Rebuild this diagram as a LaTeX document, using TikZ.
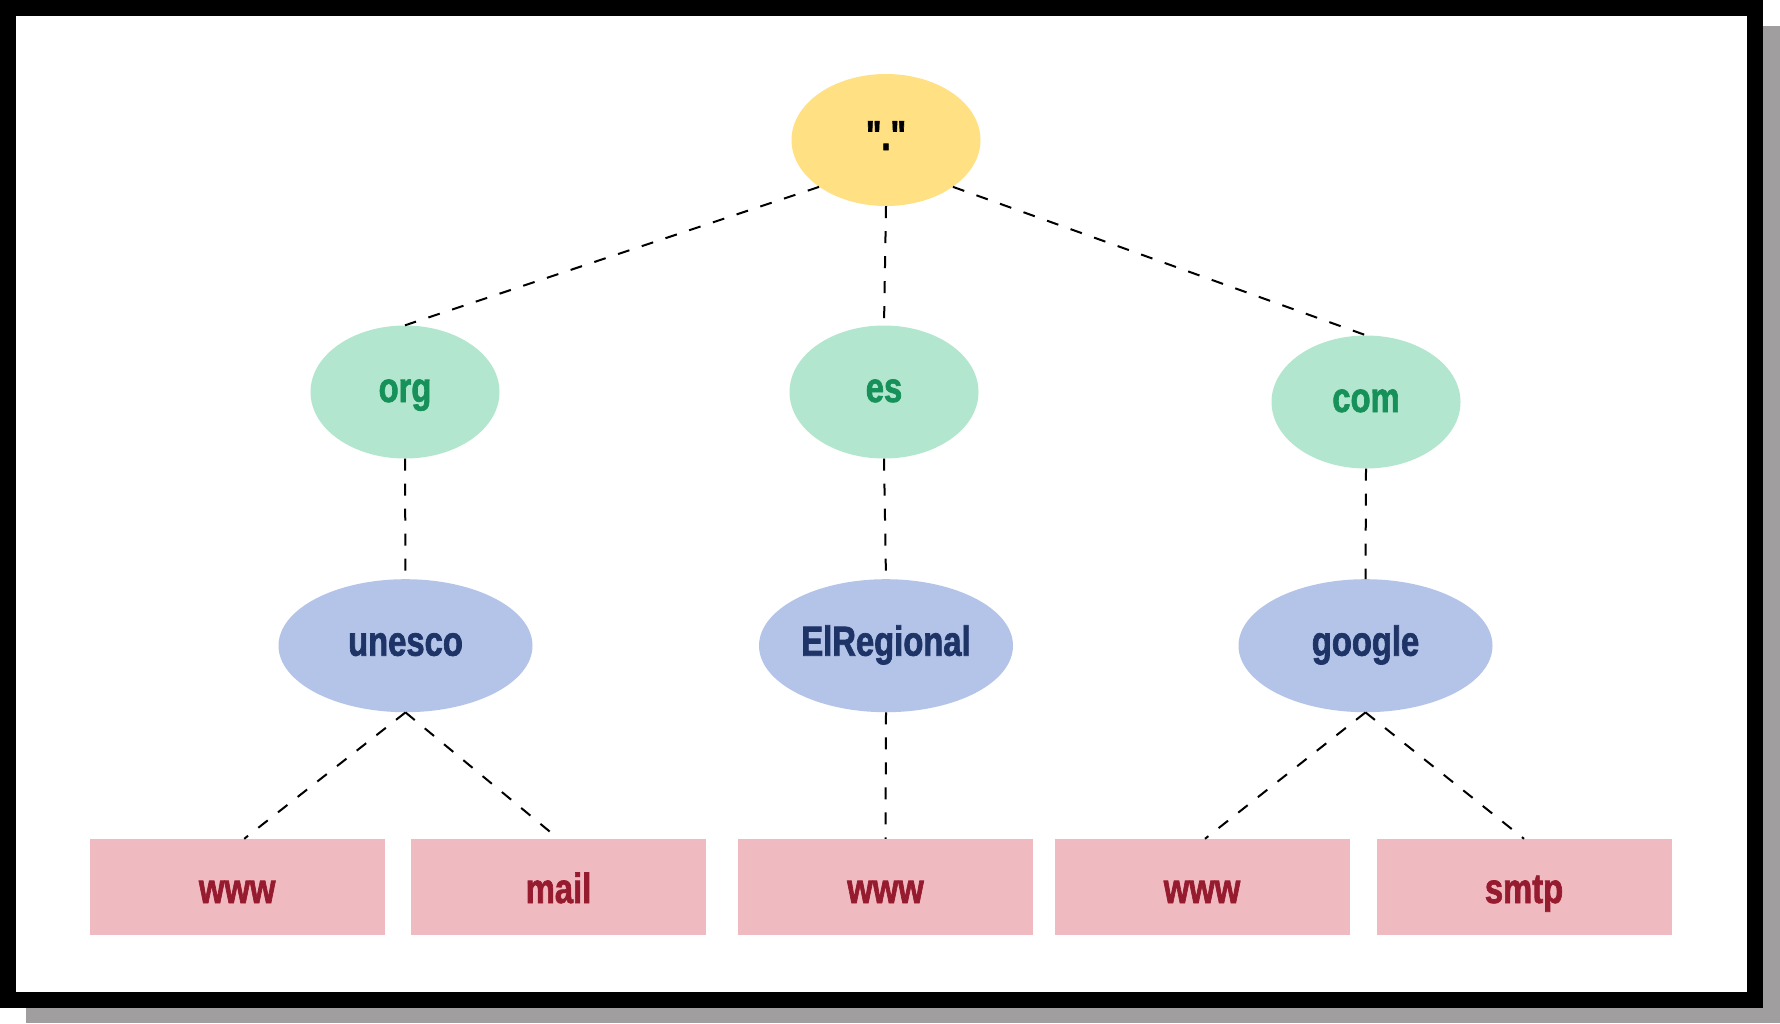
\documentclass[tikz,border=0pt]{standalone}
\usepackage{fontspec}
\setmainfont{Liberation Sans}
\newfontfamily\labelfont[FakeStretch=0.78,BoldFeatures={FakeBold=1.6}]{Liberation Sans}
\usetikzlibrary{shapes.geometric}
\definecolor{shadowgray}{HTML}{A09E9E}
\definecolor{rootfill}{HTML}{FFE082}
\definecolor{tldfill}{HTML}{B3E6CE}
\definecolor{domfill}{HTML}{B4C4E8}
\definecolor{hostfill}{HTML}{F0BAC1}
\definecolor{tldtext}{HTML}{17915A}
\definecolor{domtext}{HTML}{1E3366}
\definecolor{hosttext}{HTML}{971B2F}
\tikzset{
  lbl/.style={font=\fontsize{42}{50}\selectfont\labelfont\bfseries},
  ellnode/.style={ellipse, draw=none, inner sep=0pt, lbl, text height=30pt, text depth=10pt},
  rootnode/.style={ellnode, fill=rootfill, text=black, minimum width=189pt, minimum height=132pt},
  tldnode/.style={ellnode, fill=tldfill, text=tldtext, minimum width=189pt, minimum height=133pt},
  domnode/.style={ellnode, fill=domfill, text=domtext, minimum width=254pt, minimum height=133pt},
  hostnode/.style={rectangle, draw=none, fill=hostfill, text=hosttext, inner sep=0pt, lbl,
    minimum width=295pt, minimum height=96pt, text height=42pt, text depth=10pt},
  link/.style={draw=black, line width=2pt, dash pattern=on 12pt off 13pt}
}
\begin{document}
\begin{tikzpicture}[x=1pt,y=-1pt]
  \useasboundingbox (0,0) rectangle (1780,1023);
  \fill[white] (0,0) rectangle (1780,1023);
  % frame with shadow
  \fill[shadowgray] (26,26) rectangle (1780,1023);
  \fill[black] (0,0) rectangle (1763,1008);
  \fill[white] (16,16) rectangle (1747,992);
  % nodes
  \node[rootnode] (root) at (886,140) {"."};
  \node[tldnode] (org) at (405,392) {org};
  \node[tldnode] (es) at (884,392) {es};
  \node[tldnode] (com) at (1366,402) {com};
  \node[domnode] (unesco) at (405.5,645.7) {unesco};
  \node[domnode] (elreg) at (886,645.7) {ElRegional};
  \node[domnode] (google) at (1365.5,645.7) {google};
  \node[hostnode] (w1) at (237.2,887) {www};
  \node[hostnode] (mail) at (558.5,887) {mail};
  \node[hostnode] (w2) at (885.5,887) {www};
  \node[hostnode] (w3) at (1202,887) {www};
  \node[hostnode] (smtp) at (1524,887) {smtp};
  % connectors
  \draw[link] (root.215) -- (org.north);
  \draw[link] (root.south) -- (es.north);
  \draw[link] (root.325) -- (com.north);
  \draw[link] (org.south) -- (unesco.north);
  \draw[link] (es.south) -- (elreg.north);
  \draw[link] (com.south) -- (google.north);
  \draw[link] (unesco.south) -- ([xshift=7pt]w1.north);
  \draw[link] (unesco.south) -- (mail.north);
  \draw[link] (elreg.south) -- (w2.north);
  \draw[link] (google.south) -- ([xshift=3pt]w3.north);
  \draw[link] (google.south) -- (smtp.north);
\end{tikzpicture}
\end{document}
